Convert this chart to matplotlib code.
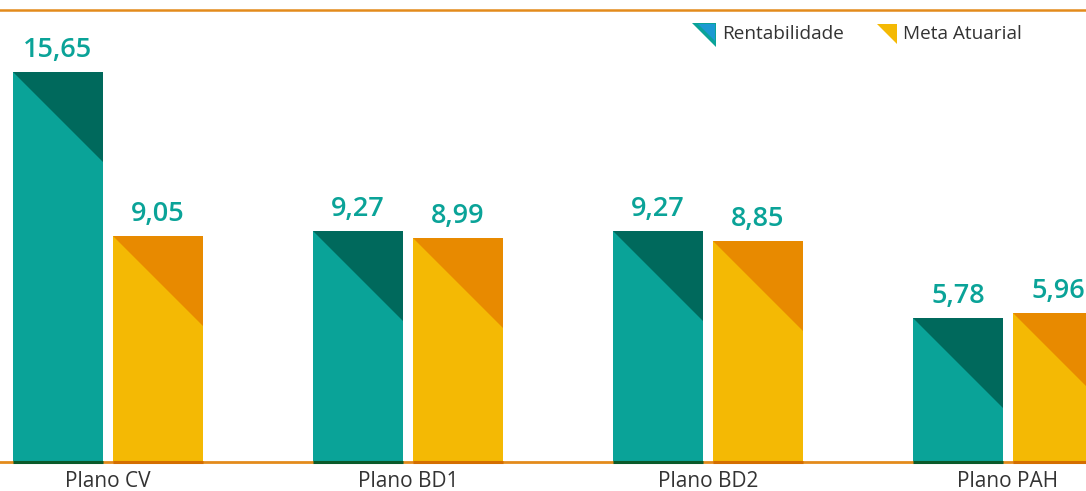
import matplotlib
matplotlib.use("Agg")
import matplotlib.pyplot as plt
from matplotlib.patches import Polygon
from matplotlib.lines import Line2D

categories = ["Plano CV", "Plano BD1", "Plano BD2", "Plano PAH"]
rentabilidade = [15.65, 9.27, 9.27, 5.78]
meta_atuarial = [9.05, 8.99, 8.85, 5.96]
legend_labels = ["Rentabilidade", "Meta Atuarial"]

TEAL = "#0aa398"
TEAL_DARK = "#00695c"
YELLOW = "#f4b904"
ORANGE = "#e88a00"
LINE = "#e38b1c"
TEXT_TEAL = "#0aa398"
FONT = "Open Sans"

W, H = 1086, 491
fig = plt.figure(figsize=(W / 100, H / 100), dpi=100)
base_px = 462
ax = fig.add_axes([0, (H - base_px) / H, 1, base_px / H])
px_per_unit = 24.92
ax.set_xlim(0, W / 100)
ax.set_ylim(0, base_px / px_per_unit)
ax.axis("off")

bar_w = 0.9
group = 3.0
x_r = [0.58 + group * i for i in range(len(categories))]
x_m = [1.58 + group * i for i in range(len(categories))]

def draw_series(xs, vals, c_main, c_dark, strip):
    bars = ax.bar(xs, vals, width=bar_w, color=c_main, zorder=2, linewidth=0)
    sx = ax.transData.transform((bar_w, 0))[0] - ax.transData.transform((0, 0))[0]
    sy = ax.transData.transform((0, 1))[1] - ax.transData.transform((0, 0))[1]
    tri_h = sx / sy
    for b, v in zip(bars, vals):
        l = b.get_x()
        r = l + b.get_width()
        ax.add_patch(Polygon([(l, v), (r, v), (r, v - tri_h)], closed=True,
                             facecolor=c_dark, edgecolor="none", zorder=3))
        ax.annotate(f"{v:.2f}".replace(".", ","), xy=(b.get_x() + b.get_width() / 2, v),
                    xytext=(0, 11), textcoords="offset points", ha="center", va="baseline",
                    fontsize=19.5, fontweight="semibold", color=TEXT_TEAL, family=FONT,
                    annotation_clip=False)
        ax.plot([l, r], [0, 0], color=strip, lw=2.2, zorder=5, solid_capstyle="butt",
                clip_on=False)

ax.axhline(0, color=LINE, lw=2, zorder=4, clip_on=False)
draw_series(x_r, rentabilidade, TEAL, TEAL_DARK, "#0a5a2a")
draw_series(x_m, meta_atuarial, YELLOW, ORANGE, "#d46e00")

for xr, xm, c in zip(x_r, x_m, categories):
    ax.annotate(c, xy=((xr + xm) / 2, 0), xytext=(0, -14), textcoords="offset points",
                ha="center", va="center", fontsize=15, color="#333333", family=FONT,
                annotation_clip=False)

# top rule
fig.add_artist(Line2D([0, 1], [1 - 10 / H, 1 - 10 / H], color=LINE, lw=1.8, transform=fig.transFigure))

# legend
def fpt(x, y):
    return (x / W, 1 - y / H)

fig.add_artist(Polygon([fpt(692, 23), fpt(716, 23), fpt(716, 47)], closed=True,
                       facecolor=TEAL, edgecolor="none", transform=fig.transFigure))
fig.add_artist(Polygon([fpt(698, 24), fpt(715, 24), fpt(715, 41)], closed=True,
                       facecolor="#1b9ad2", edgecolor="none", transform=fig.transFigure))
fig.add_artist(Polygon([fpt(877, 24), fpt(897, 24), fpt(897, 44)], closed=True,
                       facecolor=YELLOW, edgecolor="none", transform=fig.transFigure))
fig.text(722 / W, 1 - 34 / H, legend_labels[0], ha="left", va="center", fontsize=13.7,
         color="#333333", family=FONT)
fig.text(903 / W, 1 - 34 / H, legend_labels[1], ha="left", va="center", fontsize=13.7,
         color="#333333", family=FONT)

fig.savefig("out.png", dpi=100)
